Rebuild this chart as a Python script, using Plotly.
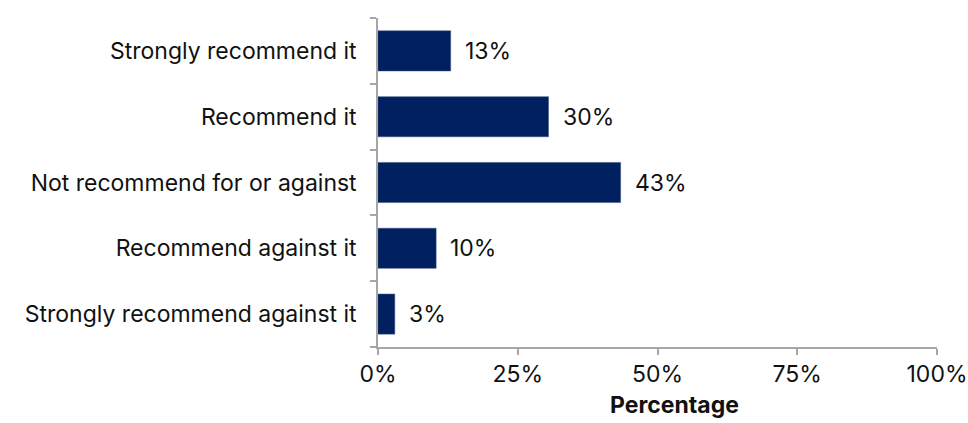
import plotly.graph_objects as go

categories = ["Strongly recommend it", "Recommend it", "Not recommend for or against",
              "Recommend against it", "Strongly recommend against it"]
values = [13, 30.5, 43.4, 10.4, 3.0]
labels = ["13%", "30%", "43%", "10%", "3%"]
x_ticks = [0, 25, 50, 75, 100]

FONT = "Inter"
SIZE = 23
NAVY = "#002060"

fig = go.Figure(go.Bar(
    y=categories, x=values, orientation="h",
    marker=dict(color=NAVY, line=dict(color="#3a4f80", width=0.5)),
    width=0.61,
    text=labels, textposition="none", hoverinfo="skip",
))

for c, v, t in zip(categories, values, labels):
    fig.add_annotation(x=v, y=c, text=t, showarrow=False, xanchor="left",
                       xshift=12, font=dict(family=FONT, size=SIZE, color="#111"))

fig.add_annotation(x=0.53, y=-0.225, xref="paper", yref="paper", yanchor="bottom",
                   text="<b>Percentage</b>", showarrow=False,
                   font=dict(family=FONT, size=SIZE, color="#111"))

fig.update_layout(
    width=968, height=423,
    margin=dict(l=378, r=31, t=18, b=76, autoexpand=False),
    plot_bgcolor="white", paper_bgcolor="white",
    showlegend=False,
    font=dict(family=FONT, size=SIZE, color="#111"),
)
fig.update_xaxes(
    range=[0, 100], tickvals=x_ticks, ticktext=[f"{v}%" for v in x_ticks],
    showgrid=False, zeroline=False,
    showline=True, linecolor="#a6a6a6", linewidth=1.5,
    ticks="outside", ticklen=6, tickcolor="#a6a6a6", tickwidth=1.5,
)
fig.update_yaxes(
    categoryorder="array", categoryarray=categories[::-1],
    showgrid=False, showline=True, linecolor="#a6a6a6", linewidth=1.5,
    ticks="outside", ticklen=6, tickcolor="#a6a6a6", tickwidth=1.5,
    tickson="boundaries", ticklabelstandoff=15,
)

fig.write_html("out.html", config={"displayModeBar": False},
               post_script="document.body.style.margin='0';")
